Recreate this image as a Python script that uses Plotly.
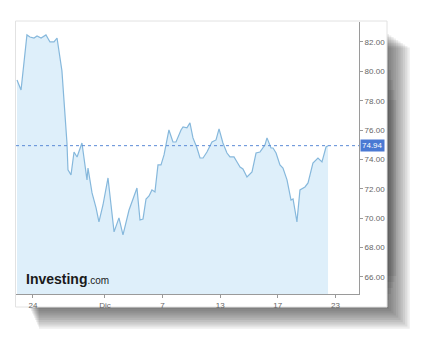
import plotly.graph_objects as go

# trading-day offsets from Nov 24 (0 = Nov 24), and prices
times = [-1.11, -0.83, -0.42, -0.21, 0.07, 0.28, 0.56, 0.90, 1.18, 1.46, 1.67, 1.94, 2.01, 2.15,
         2.36, 2.43, 2.64, 2.85, 3.06, 3.40, 3.54, 3.75, 3.82, 3.96, 4.10, 4.38, 4.58, 4.86,
         5.21, 5.42, 5.63, 5.97, 6.25, 6.67, 6.94, 7.22, 7.43, 7.64, 7.85, 8.06, 8.26, 8.47,
         8.68, 8.89, 9.10, 9.44, 9.72, 9.93, 10.28, 10.42, 10.69, 10.90, 11.11, 11.39, 11.60,
         11.81, 12.08, 12.43, 12.71, 12.92, 13.19, 13.47, 13.68, 13.96, 14.17, 14.38, 14.58,
         14.86, 15.21, 15.49, 15.76, 16.11, 16.25, 16.53, 16.67, 16.88, 17.15, 17.36, 17.64,
         17.92, 18.06, 18.33, 18.54, 18.89, 19.10, 19.44, 19.79, 20.07, 20.35, 20.49]
prices = [79.41, 78.73, 82.48, 82.34, 82.27, 82.41, 82.27, 82.48, 82.00, 82.00, 82.27, 80.71, 80.03, 78.06,
          75.12, 73.29, 72.95, 74.51, 74.17, 75.12, 74.17, 72.61, 73.42, 72.47, 71.72, 70.70, 69.75, 70.90,
          72.74, 70.90, 69.07, 70.02, 68.86, 70.56, 71.24, 72.06, 69.88, 69.95, 71.31, 71.52, 71.93, 71.79,
          73.63, 73.63, 74.31, 76.01, 75.19, 75.19, 76.01, 76.21, 76.15, 76.49, 75.47, 74.78, 74.10,
          74.10, 74.51, 75.19, 75.33, 76.08, 75.12, 74.44, 74.17, 74.17, 73.83, 73.49, 73.35,
          72.81, 73.15, 74.44, 74.51, 74.99, 75.47, 74.78, 74.78, 74.44, 73.63, 73.42, 72.61,
          71.24, 71.31, 69.75, 71.93, 72.13, 72.40, 73.76, 74.10, 73.83, 74.85, 74.94]

tick_pos = [0, 5, 9, 13, 17, 21]
tick_text = ["24", "Dic", "7", "13", "17", "23"]
y_ticks = [66, 68, 70, 72, 74, 76, 78, 80, 82]
last_price = 74.94

W, H = 430, 344
def px(x): return x / W
def py(y): return 1 - y / H

fig = go.Figure()
fig.add_trace(go.Scatter(
    x=times, y=prices, mode="lines", fill="tozeroy",
    line=dict(color="#86b8dc", width=1.2),
    fillcolor="rgba(222,239,250,1)", hoverinfo="skip"))

shapes = []
# shadow layers (page-curl style, strongest on the right)
for i in range(10):
    shapes.append(dict(type="rect", xref="paper", yref="paper", layer="below",
                       x0=px(30 + i * 1.0), x1=px(389 + i * 2.3),
                       y0=py(309 + i * 2.2), y1=py(34 + i * 1.5),
                       fillcolor="rgba(50,50,50,0.085)", line=dict(width=0)))
for i in range(5):
    shapes.append(dict(type="rect", xref="paper", yref="paper", layer="below",
                       x0=px(300), x1=px(389 + i * 1.8),
                       y0=py(300 - i * 6), y1=py(60 + i * 10),
                       fillcolor="rgba(40,40,40,0.08)", line=dict(width=0)))
# panel
shapes.append(dict(type="rect", xref="paper", yref="paper", layer="below",
                   x0=px(15.5), x1=px(387), y0=py(307), y1=py(21),
                   fillcolor="white", line=dict(color="#e2e2e2", width=1)))
# last price dotted line
shapes.append(dict(type="line", xref="paper", yref="y", x0=px(16), x1=px(359),
                   y0=last_price, y1=last_price,
                   line=dict(color="#5b8ad6", width=1, dash="dot")))

fig.update_layout(
    width=W, height=H, margin=dict(l=0, r=0, t=0, b=0),
    paper_bgcolor="white", plot_bgcolor="rgba(0,0,0,0)",
    showlegend=False, shapes=shapes,
    xaxis=dict(domain=[px(16), px(359)], range=[-1.18, 22.64],
               tickvals=tick_pos, ticktext=tick_text, ticks="outside", ticklen=3,
               tickcolor="#999", showgrid=False, zeroline=False,
               showline=True, linecolor="#9a9a9a", linewidth=1,
               tickfont=dict(family="Liberation Sans", size=8, color="#666")),
    yaxis=dict(domain=[py(294), py(22)], range=[64.84, 83.36], side="right",
               tickvals=y_ticks, tickformat=".2f", ticks="outside", ticklen=3,
               tickcolor="#999", showgrid=False, zeroline=False,
               showline=True, linecolor="#9a9a9a", linewidth=1,
               tickfont=dict(family="Liberation Sans", size=8, color="#666")),
    annotations=[
        dict(xref="paper", yref="y", x=px(360), y=last_price, xanchor="left", yanchor="middle",
             text="74.94", showarrow=False, bgcolor="#4a79d3", borderpad=1,
             font=dict(family="Liberation Sans", size=8, color="white")),
        dict(xref="paper", yref="paper", x=px(24), y=py(279), xanchor="left", yanchor="middle",
             text="<b>Investing</b><span style='font-size:10px'>.com</span>", showarrow=False,
             font=dict(family="Liberation Sans", size=14, color="#1a1a1a")),
    ],
)

fig.write_html("out.html")
